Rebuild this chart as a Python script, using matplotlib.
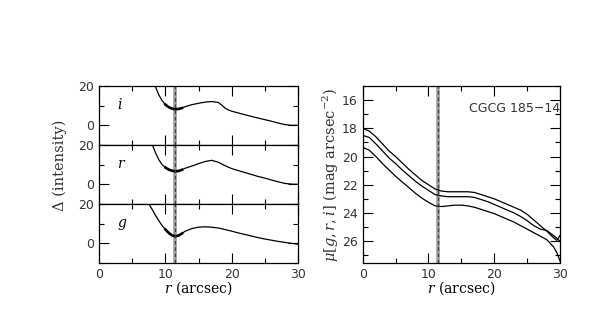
import numpy as np
import matplotlib
matplotlib.use("Agg")
import matplotlib.pyplot as plt
from matplotlib.ticker import MultipleLocator

plt.rcParams['font.family'] = ['DejaVu Serif']
plt.rcParams['mathtext.fontset'] = 'dejavuserif'

# left panels: residual intensity per band
i_r = [8.0, 8.5, 9, 9.5, 10, 10.5, 11, 11.5, 12, 12.5, 13, 14, 15, 16, 17, 18,
       18.5, 19, 19.5, 20, 21, 22, 23, 24, 25, 26, 27, 28, 29, 30]
i_v = [24, 19.5, 15.5, 12.5, 10.5, 9.2, 8.5, 8.2, 8.3, 8.8, 9.5, 10.5, 11.2,
       11.8, 12.1, 11.6, 10.3, 8.8, 7.8, 7.2, 6.3, 5.4, 4.5, 3.7, 2.9, 2.1,
       1.2, 0.4, 0.0, 0.0]

r_r = [7.8, 8.5, 9, 9.5, 10, 10.5, 11, 11.5, 12, 12.5, 13, 14, 15, 16, 17, 18,
       19, 20, 21, 22, 23, 24, 25, 26, 27, 28, 29, 30]
r_v = [22, 16, 12.5, 10, 8.5, 7.5, 6.9, 6.6, 6.8, 7.4, 8.2, 9.3, 10.5, 11.6,
       12.2, 11.2, 9.5, 8.0, 7.0, 6.0, 5.0, 4.0, 3.2, 2.2, 1.3, 0.5, 0.1, 0.0]

g_r = [7.5, 8, 8.5, 9, 9.5, 10, 10.5, 11, 11.5, 12, 12.5, 13, 14, 15, 16, 17,
       18, 19, 20, 21, 22, 23, 24, 25, 26, 27, 28, 29, 30]
g_v = [20, 17.2, 14.2, 11.5, 9.0, 7.0, 5.3, 4.0, 3.6, 4.0, 5.0, 6.2, 7.5, 8.2,
       8.4, 8.2, 7.8, 7.0, 6.2, 5.3, 4.5, 3.7, 2.9, 2.2, 1.6, 1.0, 0.5, 0.0, -0.4]

# right panel: surface brightness profiles
mu_r = [0, 1, 2, 3, 4, 5, 6, 7, 8, 9, 10, 11, 12, 13, 14, 15, 16, 17, 18, 19,
        20, 21, 22, 23, 24, 25, 26, 27, 28, 29, 29.5, 30]
mu_i = [18.0, 18.2, 18.6, 19.1, 19.6, 20.0, 20.45, 20.9, 21.3, 21.7, 22.0, 22.3,
        22.45, 22.5, 22.5, 22.5, 22.5, 22.55, 22.7, 22.85, 23.0, 23.2, 23.4,
        23.6, 23.8, 24.1, 24.5, 24.9, 25.3, 25.75, 25.95, 25.6]
mu_rb = [18.5, 18.65, 19.1, 19.6, 20.1, 20.5, 20.95, 21.35, 21.75, 22.1, 22.4,
         22.7, 22.8, 22.85, 22.85, 22.85, 22.85, 22.9, 23.05, 23.2, 23.4, 23.6,
         23.8, 24.0, 24.25, 24.55, 24.9, 25.15, 25.25, 25.6, 25.8, 26.0]
mu_g = [19.35, 19.55, 20.0, 20.5, 20.95, 21.4, 21.8, 22.2, 22.6, 22.95, 23.25,
        23.5, 23.55, 23.5, 23.45, 23.45, 23.5, 23.6, 23.75, 23.9, 24.05, 24.25,
        24.45, 24.65, 24.9, 25.15, 25.4, 25.65, 25.9, 26.4, 26.8, 27.4]

r_break = 11.4
fit_lo, fit_hi = 9.7, 12.9
tick_col = '#333333'
sans = ['DejaVu Sans']


def mark_break(ax, x):
    ax.axvline(x, color='#a0a0a0', lw=2.6, zorder=1)
    ax.axvline(x, color='#404040', lw=0.9, ls=(0, (3, 2)), zorder=2)


def style(ax):
    ax.tick_params(which='both', direction='in', top=True, right=True,
                   colors='black', labelcolor=tick_col, labelsize=9)
    ax.tick_params(which='major', length=7, width=0.8)
    ax.tick_params(which='minor', length=3.5, width=0.8)
    for lab in ax.get_xticklabels() + ax.get_yticklabels():
        lab.set_family(sans)
    for s in ax.spines.values():
        s.set_linewidth(0.9)


fig = plt.figure(figsize=(5.98, 3.18), dpi=100)

L, W = 0.166, 0.332
B, T = 0.173, 0.7296
h = (T - B) / 3
bands = [('i', i_r, i_v), ('r', r_r, r_v), ('g', g_r, g_v)]
axes = []
for k, (name, xs, ys) in enumerate(bands):
    ax = fig.add_axes([L, T - (k + 1) * h, W, h])
    xs = np.array(xs)
    ys = np.array(ys)
    ax.plot(xs, ys, color='black', lw=0.9)
    m = (xs >= fit_lo) & (xs <= fit_hi)
    ax.plot(xs[m], ys[m], color='black', lw=1.9)
    mark_break(ax, r_break)
    ax.set_xlim(0, 30)
    ax.set_ylim(-10, 20)
    ax.set_yticks([0, 20])
    ax.yaxis.set_minor_locator(MultipleLocator(10))
    ax.xaxis.set_major_locator(MultipleLocator(10))
    ax.xaxis.set_minor_locator(MultipleLocator(5))
    ax.text(2.7, 10.5, name, style='italic', fontsize=10, va='center')
    style(ax)
    if k < 2:
        ax.tick_params(labelbottom=False)
    axes.append(ax)

axes[-1].set_xlabel(r'$r$ (arcsec)', fontsize=10, labelpad=-1)
fig.text(0.1, 0.481, 'Δ (intensity)', rotation=90, fontsize=10.5,
         ha='center', va='center', color=tick_col)

ax2 = fig.add_axes([0.6065, B, 0.33, T - B])
ax2.plot(mu_r, mu_i, color='black', lw=0.9)
ax2.plot(mu_r, mu_rb, color='black', lw=0.9)
ax2.plot(mu_r, mu_g, color='black', lw=0.9)
mark_break(ax2, 11.5)
ax2.set_xlim(0, 30)
ax2.set_ylim(27.55, 15.0)
ax2.yaxis.set_major_locator(MultipleLocator(2))
ax2.yaxis.set_minor_locator(MultipleLocator(1))
ax2.xaxis.set_major_locator(MultipleLocator(10))
ax2.xaxis.set_minor_locator(MultipleLocator(5))
style(ax2)
ax2.set_xlabel(r'$r$ (arcsec)', fontsize=10, labelpad=-1)
ax2.set_ylabel(r'$\mu[g,r,i]$ (mag arcsec$^{-2}$)', fontsize=10.5,
               labelpad=1, color=tick_col)
ax2.text(1.0, 0.87, 'CGCG 185\u221214', transform=ax2.transAxes, ha='right',
         va='center', fontsize=9, family=sans, color=tick_col)

fig.savefig('out.png', dpi=100)
